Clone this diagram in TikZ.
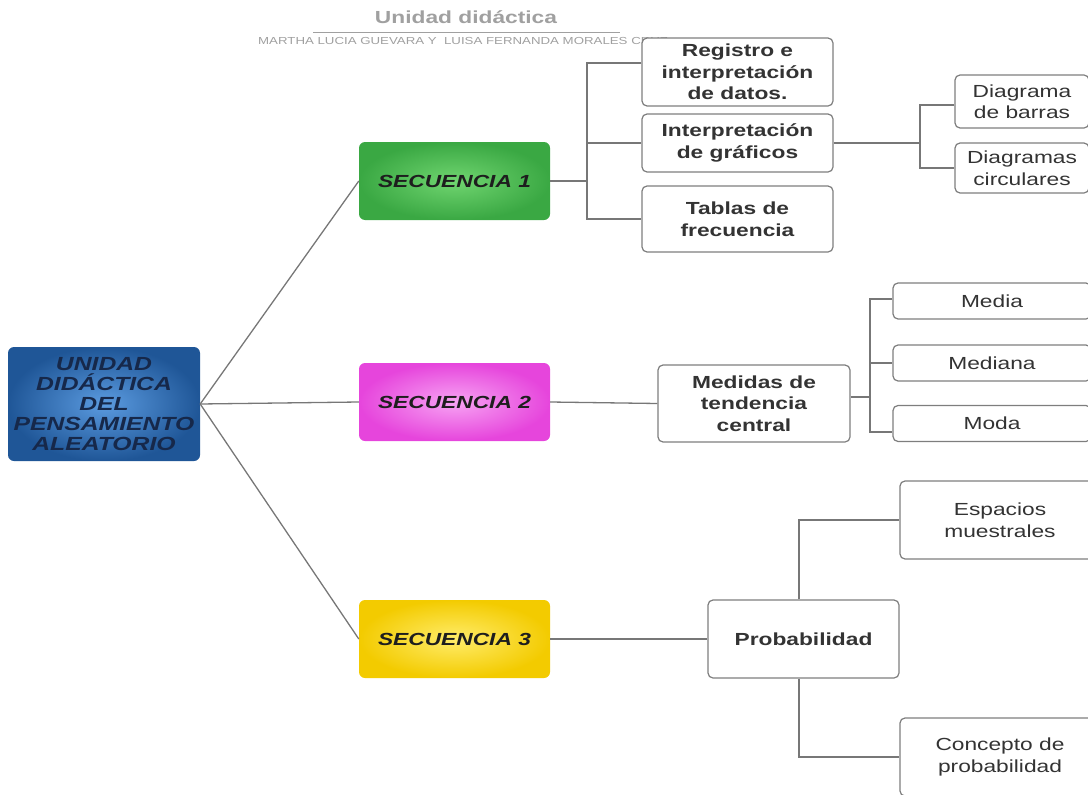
\documentclass[tikz,border=0pt]{standalone}
\usepackage{fontspec}
\setmainfont{Liberation Sans}[FakeStretch=1.3]
\usepackage{xcolor}

\definecolor{lineg}{HTML}{777777}
\definecolor{boxg}{HTML}{7E7E7E}
\definecolor{txtg}{HTML}{333333}
\definecolor{txtd}{HTML}{1E1E1E}
\definecolor{navy}{HTML}{16284A}
\definecolor{titleg}{HTML}{A0A0A0}
\definecolor{bluein}{HTML}{5B9BE0}
\definecolor{blueout}{HTML}{1F5697}
\definecolor{greenin}{HTML}{70D570}
\definecolor{greenout}{HTML}{3AA843}
\definecolor{pinkin}{HTML}{F7A3F3}
\definecolor{pinkout}{HTML}{E645DC}
\definecolor{yellowin}{HTML}{FFEC6A}
\definecolor{yellowout}{HTML}{F3CB00}

\begin{document}
\begin{tikzpicture}[x=1pt,y=-1pt,
  conn/.style={draw=lineg,line width=1.3pt},
  colbox/.style={rounded corners=6pt,minimum width=191pt,minimum height=78pt,inner sep=0pt,
    text=txtd,font=\bfseries\itshape\fontsize{17.5}{21}\selectfont},
  leaf/.style={draw=boxg,line width=1.2pt,fill=white,rounded corners=5pt,align=center,
    inner sep=0pt,text=txtg,font=\fontsize{17.5}{21.5}\selectfont},
  boldleaf/.style={leaf,font=\bfseries\fontsize{17.5}{21.5}\selectfont}]
   \useasboundingbox (0,0) rectangle (1088,795);

   % heading
   \node[text=titleg,font=\bfseries\fontsize{17.5}{21}\selectfont] (ttl) at (466,17) {Unidad didáctica};
   \draw[titleg,line width=1pt] (313,32) -- (620,32);
   \node[anchor=west,inner sep=0pt,text=titleg,font=\fontsize{10.2}{12}\selectfont] (sub) at (258,41)
      {MARTHA LUCIA GUEVARA Y\ \ LUISA FERNANDA MORALES CRUZ};

   % central node and sequences
   \node[colbox,minimum width=192pt,minimum height=114pt,inner color=bluein,outer color=blueout,
      text=navy,align=center,font=\bfseries\itshape\fontsize{19}{20}\selectfont] (root) at (104,404)
      {UNIDAD\\DIDÁCTICA\\DEL\\PENSAMIENTO\\ALEATORIO};
   \node[colbox,inner color=greenin,outer color=greenout] (s1) at (454.5,181) {SECUENCIA 1};
   \node[colbox,inner color=pinkin,outer color=pinkout] (s2) at (454.5,402) {SECUENCIA 2};
   \node[colbox,inner color=yellowin,outer color=yellowout] (s3) at (454.5,639) {SECUENCIA 3};

   % secuencia 1
   \node[boldleaf,minimum width=191pt,minimum height=68pt] (reg) at (737.5,72) {Registro e\\interpretación\\de datos.};
   \node[boldleaf,minimum width=191pt,minimum height=58pt] (igr) at (737.5,143) {Interpretación\\de gráficos};
   \node[boldleaf,minimum width=191pt,minimum height=66pt] (tab) at (737.5,219) {Tablas de\\frecuencia};
   \node[leaf,minimum width=134pt,minimum height=53pt] (dba) at (1022,101.5) {Diagrama\\de barras};
   \node[leaf,minimum width=134pt,minimum height=50pt] (dci) at (1022,168) {Diagramas\\circulares};

   % secuencia 2
   \node[boldleaf,minimum width=192pt,minimum height=77pt] (med) at (754,403.5) {Medidas de\\tendencia\\central};
   \node[leaf,minimum width=198pt,minimum height=36pt] (mdia) at (992,301) {Media};
   \node[leaf,minimum width=198pt,minimum height=36pt] (mna) at (992,363) {Mediana};
   \node[leaf,minimum width=198pt,minimum height=36pt] (moda) at (992,423.5) {Moda};

   % secuencia 3
   \node[boldleaf,minimum width=191pt,minimum height=78pt] (prob) at (803.5,639) {Probabilidad};
   \node[leaf,minimum width=200pt,minimum height=78pt] (esp) at (1000,520) {Espacios\\muestrales};
   \node[leaf,minimum width=200pt,minimum height=78pt] (con) at (1000,757) {Concepto de\\probabilidad};

   % connectors
   \draw[conn] (root.east) -- (s1.west);
   \draw[conn] (root.east) -- (s2.west);
   \draw[conn] (root.east) -- (s3.west);

   \coordinate (k1) at (587,181);
   \draw[conn] (s1.east) -- (k1);
   \draw[conn] (reg.west |- 0,63) -| (k1) |- (tab.west);
   \draw[conn] (k1 |- igr.west) -- (igr.west);

   \coordinate (k2) at (920,143);
   \draw[conn] (igr.east) -- (k2);
   \draw[conn] (dba.west |- 0,105) -| (k2) |- (dci.west);

   \draw[conn] (s2.east) -- (med.west);
   \coordinate (k3) at (870,397);
   \draw[conn] (med.east |- k3) -- (k3);
   \draw[conn] (mdia.west |- 0,299) -| (k3) |- (moda.west |- 0,432);
   \draw[conn] (k3 |- mna.west) -- (mna.west);

   \draw[conn] (s3.east) -- (prob.west);
   \draw[conn] (prob.north -| 799,0) |- (esp.west);
   \draw[conn] (prob.south -| 799,0) |- (con.west);
\end{tikzpicture}
\end{document}
